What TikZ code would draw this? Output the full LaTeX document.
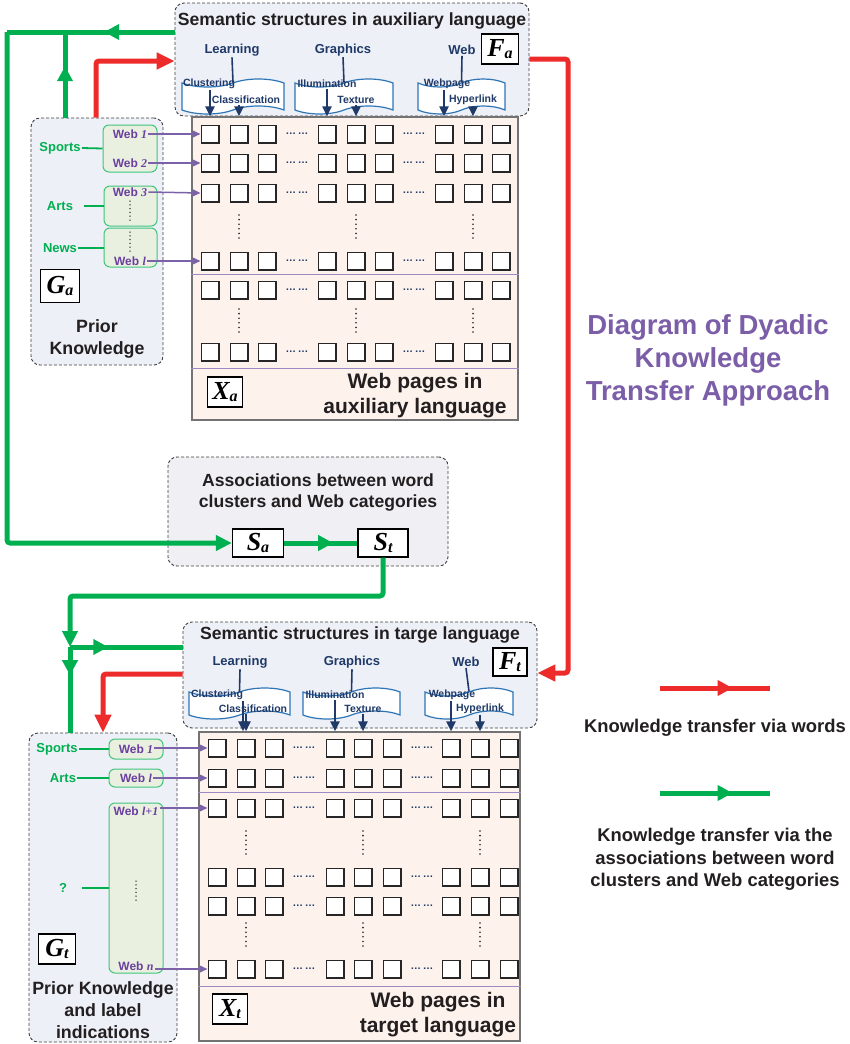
\documentclass[tikz,border=0pt]{standalone}
\usepackage{fontspec}
\setmainfont{Liberation Sans}
\newfontfamily\varfont{Liberation Serif}
\usepackage{xcolor}
\usepackage{tikz}
\usetikzlibrary{arrows.meta,positioning,calc,shapes.symbols,decorations.markings}

\definecolor{kgreen}{HTML}{00B050}
\definecolor{kred}{HTML}{EE2B2B}
\definecolor{knavy}{HTML}{1F3A68}
\definecolor{kblue}{HTML}{2E75B6}
\definecolor{kpurple}{HTML}{6B3FA0}
\definecolor{karrow}{HTML}{7B62A8}
\definecolor{ktitle}{HTML}{7B5EA7}
\definecolor{kpanel}{HTML}{EEF0F8}
\definecolor{kassoc}{HTML}{F0F0F4}
\definecolor{kmat}{HTML}{FDF3EC}
\definecolor{kgroup}{HTML}{E9F0E0}
\definecolor{ksep}{HTML}{9B8AC4}
\definecolor{ktext}{HTML}{231F20}

\newcommand{\mvar}[2]{{\varfont\bfseries\itshape\fontsize{26}{26}\selectfont #1}\raisebox{-0.45ex}{\varfont\bfseries\itshape\fontsize{16}{16}\selectfont #2}}
\newcommand{\webno}[1]{{\varfont\itshape #1}}

\begin{document}
\begin{tikzpicture}[x=1pt, y=-1pt,
  panel/.style={draw=black!75, line width=0.9pt, dash pattern=on 3pt off 2pt, rounded corners=9pt, inner sep=0pt},
  matframe/.style={draw=black!55, line width=1.2pt, fill=kmat, inner sep=0pt},
  cell/.style={draw=black!85, line width=1.5pt, fill=white, minimum size=17.5pt, inner sep=0pt},
  hdots/.style={text=knavy, font=\bfseries\fontsize{10.5}{10}\selectfont, inner sep=0pt},
  vdotline/.style={line width=1.8pt, line cap=round, dash pattern=on 0pt off 4.6pt, black!85},
  sepline/.style={draw=ksep, line width=1pt},
  group/.style={draw=kgreen!75, line width=1pt, fill=kgroup, rounded corners=6pt, inner sep=0pt},
  doc/.style={shape=tape, draw=kblue, line width=1.2pt, fill=white, inner sep=0pt, tape bend height=8pt},
  varbox/.style={draw=black, line width=1.3pt, fill=white, inner sep=0pt},
  boxtitle/.style={font=\bfseries\fontsize{17.6}{21}\selectfont, text=ktext, align=center, inner sep=0pt},
  navylab/.style={font=\bfseries\fontsize{13}{15}\selectfont, text=knavy, inner sep=1pt},
  sublab/.style={font=\bfseries\fontsize{10.5}{12}\selectfont, text=knavy, inner sep=1pt},
  catlab/.style={font=\bfseries\fontsize{13}{15}\selectfont, text=kgreen, inner sep=1pt},
  weblab/.style={font=\bfseries\fontsize{12}{14}\selectfont, text=kpurple, inner sep=1pt},
  bigtext/.style={font=\bfseries\fontsize{21}{25}\selectfont, text=ktext, align=center, inner sep=0pt},
  midtext/.style={font=\bfseries\fontsize{17.8}{22}\selectfont, text=ktext, align=center, inner sep=0pt},
  titletext/.style={font=\bfseries\fontsize{27.5}{33}\selectfont, text=ktitle, align=center, inner sep=0pt},
  legtext/.style={font=\bfseries\fontsize{18.4}{22.5}\selectfont, text=ktext, align=center, inner sep=0pt},
  navyline/.style={draw=knavy, line width=1.6pt},
  narrow/.style={draw=knavy, line width=2pt, -{Triangle[length=10pt,width=9pt]}},
  parrow/.style={draw=karrow, line width=1.5pt, -{Triangle[length=8pt,width=7pt]}},
  catline/.style={draw=kgreen, line width=1.8pt},
  gline/.style={draw=kgreen, line width=5pt, rounded corners=3pt},
  rline/.style={draw=kred, line width=5pt, rounded corners=3pt},
  tipG/.style={-{Triangle[length=16pt,width=15pt]}},
  tipR/.style={-{Triangle[length=18pt,width=16pt]}},
  midarrow/.style={postaction={decorate}, decoration={markings, mark=at position #1 with {\arrow{Triangle[length=15pt,width=15pt]}}}}
]
\fill[white] (0,0) rectangle (849,1044);
\useasboundingbox (0,0) rectangle (849,1044);

% auxiliary language
\node[panel, fill=kpanel, minimum width=354pt, minimum height=113pt] (semA) at (352,59.5) {};
\node[boxtitle] (semAt) at (352,21) {Semantic structures in auxiliary language};
\node[varbox, minimum width=37pt, minimum height=30pt] (Fa) at (500,49) {\mvar{F}{a}};
\node[navylab] (lrnA) at (232,50) {Learning};
\node[navylab] (gfxA) at (343,50) {Graphics};
\node[navylab] (webA) at (462,50) {Web};
\node[doc, minimum width=102pt, minimum height=35pt] (docLA) at (233,96.5) {};
\node[doc, minimum width=98pt, minimum height=35pt] (docGA) at (344,96.5) {};
\node[doc, minimum width=87pt, minimum height=35pt] (docWA) at (461.5,96.5) {};
\draw[navyline] (lrnA.south) -- (docLA.north);
\draw[navyline] (gfxA.south) -- (docGA.north);
\draw[navyline] (webA.south) -- (docWA.north);
\node[sublab] (clusA) at (209,84) {Clustering};
\node[sublab] (clsA) at (246,100) {Classification};
\node[sublab] (illA) at (327,84) {Illumination};
\node[sublab] (texA) at (356,100) {Texture};
\node[sublab] (wpgA) at (447,84) {Webpage};
\node[sublab] (hypA) at (473,100) {Hyperlink};

\node[matframe, minimum width=326pt, minimum height=303pt] (Xa) at (355,268.5) {};
\foreach \row/\ry in {1/134,2/163,3/193,4/261,5/290,6/352}{
  \foreach \col/\cx in {1/210,2/239,3/267,4/327,5/356,6/384,7/444,8/473,9/501}
    \node[cell] (cA-\row-\col) at (\cx,\ry) {};
  \node[hdots] at (297,\ry) {…\,…};
  \node[hdots] at (414,\ry) {…\,…};
}
\foreach \cx in {239,356,473}
  \foreach \ry in {227,321}
    \draw[vdotline] (\cx,\ry-12) -- (\cx,\ry+12);
\draw[sepline] (Xa.west |- 0,274) -- (Xa.east |- 0,274);
\draw[sepline] (Xa.west |- 0,368) -- (Xa.east |- 0,368);
\node[varbox, minimum width=35pt, minimum height=30pt] (XaL) at (225,392) {\mvar{X}{a}};
\node[bigtext] (XaT) at (415,396) {Web pages in\\auxiliary language};

\draw[narrow] (clusA.south -| cA-1-1) -- (cA-1-1 |- Xa.north);
\draw[narrow] (clsA.south -| cA-1-2) -- (cA-1-2 |- Xa.north);
\draw[narrow] (illA.south -| cA-1-4) -- (cA-1-4 |- Xa.north);
\draw[narrow] (texA.south -| cA-1-5) -- (cA-1-5 |- Xa.north);
\draw[narrow] (wpgA.south -| cA-1-7) -- (cA-1-7 |- Xa.north);
\draw[narrow] (hypA.south -| cA-1-8) -- (cA-1-8 |- Xa.north);

% prior knowledge, auxiliary
\node[panel, fill=kpanel, minimum width=132pt, minimum height=247pt] (panelA) at (97,241.5) {};
\node[group, minimum width=54pt, minimum height=47pt] (grpA1) at (130,148.5) {};
\node[group, minimum width=53pt, minimum height=40pt] (grpA2) at (130.5,206) {};
\node[group, minimum width=53pt, minimum height=39pt] (grpA3) at (130.5,247.5) {};
\node[weblab] (wA1) at (130,134) {Web \webno{1}};
\node[weblab] (wA2) at (130,163) {Web \webno{2}};
\node[weblab] (wA3) at (130,192) {Web \webno{3}};
\node[weblab] (wA4) at (130,261) {Web \webno{l}};
\draw[vdotline, line width=1.5pt, dash pattern=on 0pt off 3.8pt] (130,201) -- (130,222);
\draw[vdotline, line width=1.5pt, dash pattern=on 0pt off 3.8pt] (130,232) -- (130,253);
\node[catlab] (sportsA) at (60,148) {Sports};
\node[catlab] (artsA) at (60,206) {Arts};
\node[catlab] (newsA) at (60,248) {News};
\draw[catline] (sportsA.east) -- (grpA1.west);
\draw[catline] ([xshift=10pt]artsA.east) -- (artsA.east -| grpA2.west);
\draw[catline] (newsA.east) -- (newsA.east -| grpA3.west);
\node[varbox, minimum width=39pt, minimum height=33pt] (GaL) at (60,286) {\mvar{G}{a}};
\node[midtext] (GaT) at (97,339) {Prior\\Knowledge};
\foreach \row/\w in {1/wA1,2/wA2,3/wA3,4/wA4}
  \draw[parrow] (\w.east) -- (cA-\row-1.west);

% associations
\node[panel, fill=kassoc, minimum width=280pt, minimum height=109pt] (assoc) at (308,511.5) {};
\node[boxtitle] (assocT) at (318,492.5) {Associations between word\\clusters and Web categories};
\node[varbox, minimum width=51pt, minimum height=28pt] (Sa) at (258,543) {\mvar{S}{a}};
\node[varbox, minimum width=50pt, minimum height=28pt] (St) at (383,543) {\mvar{S}{t}};

% target language
\node[panel, fill=kpanel, minimum width=354pt, minimum height=106pt] (semT) at (360,675) {};
\node[boxtitle] (semTt) at (360,635) {Semantic structures in targe language};
\node[varbox, minimum width=34pt, minimum height=28pt] (Ft) at (510,662) {\mvar{F}{t}};
\node[navylab] (lrnT) at (240,662) {Learning};
\node[navylab] (gfxT) at (352,662) {Graphics};
\node[navylab] (webT) at (466,662) {Web};
\node[doc, minimum width=101pt, minimum height=31pt] (docLT) at (239.5,703.5) {};
\node[doc, minimum width=97pt, minimum height=31pt] (docGT) at (351.5,703.5) {};
\node[doc, minimum width=88pt, minimum height=31pt] (docWT) at (469,703.5) {};
\draw[navyline] (lrnT.south) -- (docLT.north);
\draw[navyline] (gfxT.south) -- (docGT.north);
\draw[navyline] (webT.south) -- (docWT.north);
\node[sublab] (clusT) at (217,695) {Clustering};
\node[sublab] (clsT) at (253,709) {Classification};
\node[sublab] (illT) at (335,695) {Illumination};
\node[sublab] (texT) at (363,709) {Texture};
\node[sublab] (wpgT) at (452,695) {Webpage};
\node[sublab] (hypT) at (480,709) {Hyperlink};

\node[matframe, minimum width=321pt, minimum height=309pt] (Xt) at (359.5,886.5) {};
\foreach \row/\ry in {1/748,2/778,3/808,4/877,5/906,6/969}{
  \foreach \col/\cx in {1/217,2/246,3/274,4/335,5/363,6/392,7/451,8/480,9/509}
    \node[cell] (cT-\row-\col) at (\cx,\ry) {};
  \node[hdots] at (304,\ry) {…\,…};
  \node[hdots] at (422,\ry) {…\,…};
}
\foreach \cx in {246,363,480}
  \foreach \ry in {843,935}
    \draw[vdotline] (\cx,\ry-12) -- (\cx,\ry+12);
\draw[sepline] (Xt.west |- 0,792) -- (Xt.east |- 0,792);
\draw[sepline] (Xt.west |- 0,986) -- (Xt.east |- 0,986);
\node[varbox, minimum width=35pt, minimum height=30pt] (XtL) at (230,1009) {\mvar{X}{t}};
\node[bigtext] (XtT) at (438,1014.5) {Web pages in\\target language};

\draw[narrow] ($(clusT.south -| cT-1-2)+(-3,0)$) -- ($(cT-1-2 |- Xt.north)+(-3,0)$);
\draw[narrow] (clsT.south -| cT-1-2) -- (cT-1-2 |- Xt.north);
\draw[narrow] (illT.south -| cT-1-4) -- (cT-1-4 |- Xt.north);
\draw[narrow] (texT.south -| cT-1-5) -- (cT-1-5 |- Xt.north);
\draw[narrow] (wpgT.south -| cT-1-7) -- (cT-1-7 |- Xt.north);
\draw[narrow] (hypT.south -| cT-1-8) -- (cT-1-8 |- Xt.north);

% prior knowledge, target
\node[panel, fill=kpanel, minimum width=148pt, minimum height=309pt] (panelT) at (103,887.5) {};
\node[group, minimum width=54pt, minimum height=20pt] (grpT1) at (136,749) {};
\node[group, minimum width=54pt, minimum height=18pt] (grpT2) at (136,778) {};
\node[group, minimum width=54pt, minimum height=170pt] (grpT3) at (136,888) {};
\node[weblab] (wT1) at (136,749) {Web \webno{1}};
\node[weblab] (wT2) at (136,778) {Web \webno{l}};
\node[weblab] (wT3) at (136,811) {Web \webno{l+1}};
\node[weblab] (wT4) at (136,966) {Web \webno{n}};
\draw[vdotline, line width=1.5pt, dash pattern=on 0pt off 3.8pt] (136,881) -- (136,902);
\node[catlab] (sportsT) at (57,749) {Sports};
\node[catlab] (artsT) at (63,778) {Arts};
\node[catlab] (unkT) at (63,888) {?};
\draw[catline] (sportsT.east) -- (grpT1.west);
\draw[catline] (artsT.east) -- (artsT.east -| grpT2.west);
\draw[catline] ([xshift=14pt]unkT.east) -- (unkT.east -| grpT3.west);
\node[varbox, minimum width=37pt, minimum height=30pt] (GtL) at (57,949) {\mvar{G}{t}};
\node[midtext] (GtT) at (103,1010) {Prior Knowledge\\and label\\indications};
\foreach \row/\w in {1/wT1,2/wT2,3/wT3,6/wT4}
  \draw[parrow] (\w.east |- cT-\row-1.west) -- (cT-\row-1.west);

% transfer paths
\coordinate (gA) at (7,32);
\coordinate (gB) at (65,32);
\coordinate (rA) at (96,61);
\coordinate (rB) at (568,59);
\coordinate (rC) at (568,673);
\coordinate (gC) at (70,596);
\coordinate (gD) at (70,647);
\coordinate (rD) at (103,674);
\draw[gline, midarrow=0.42] (semA.west |- gA) -- (gA);
\draw[gline, tipG] (gA) |- (Sa.west);
\draw[gline, midarrow=0.6] (panelA.north -| gB) -- (gB);
\draw[rline, tipR] (panelA.north -| rA) |- (semA.west |- rA);
\draw[rline, tipR] (semA.east |- rB) -- (rB) -- (rC) -- (semT.east |- rC);
\draw[gline, midarrow=0.67] (Sa.east) -- (St.west);
\draw[gline, tipG] (St.south) |- (gC) -- (gD);
\draw[gline, midarrow=0.33] (gD) -- (panelT.north -| gD);
\draw[gline, midarrow=0.34] (gD) -- (semT.west |- gD);
\draw[rline, tipR] (semT.west |- rD) -| (panelT.north -| rD);

% title and legend
\node[titletext] (title) at (708,360) {Diagram of Dyadic\\Knowledge\\Transfer Approach};
\coordinate (lgR1) at (660,688);
\coordinate (lgR2) at (770,688);
\coordinate (lgG1) at (660,793);
\coordinate (lgG2) at (770,793);
\draw[rline, midarrow=0.66] (lgR1) -- (lgR2);
\draw[gline, midarrow=0.66] (lgG1) -- (lgG2);
\node[legtext] (lgRT) at (715,728) {Knowledge transfer via words};
\node[legtext] (lgGT) at (715,859.5) {Knowledge transfer via the\\associations between word\\clusters and Web categories};
\end{tikzpicture}
\end{document}
